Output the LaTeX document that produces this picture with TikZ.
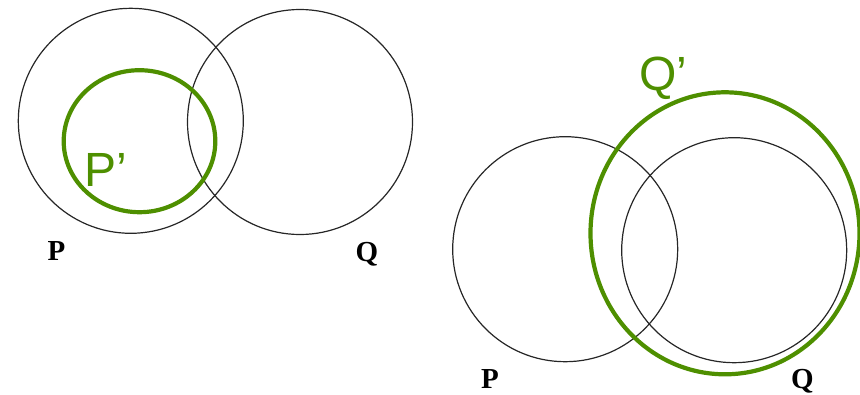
\documentclass[tikz,border=0pt]{standalone}
\usepackage{fontspec}
\setmainfont{Liberation Serif}
\newfontfamily\labsans{Liberation Sans}
\usetikzlibrary{shapes.geometric}
\definecolor{pgreen}{RGB}{78,143,0}
\begin{document}
\begin{tikzpicture}[x=1pt,y=-1pt,
  setring/.style={draw=black!85,line width=1.2pt},
  primering/.style={draw=pgreen,line width=4.2pt},
  setlabel/.style={inner sep=0pt,anchor=base west,font=\fontsize{29}{29}\selectfont\bfseries},
  primelabel/.style={inner sep=0pt,anchor=base west,text=pgreen,font=\labsans\fontsize{48}{48}\selectfont}]
\useasboundingbox (0,0) rectangle (860,394);
% left diagram
\draw[setring] (130.8,120.8) circle[radius=112.5];
\draw[setring] (300,122) circle[radius=112.5];
\draw[primering] (139.5,141.2) ellipse[x radius=75.8,y radius=71];
\node[primelabel] (Pp) at (84.6,186.7) {P’};
\node[setlabel] (P1) at (47.5,260) {P};
\node[setlabel] (Q1) at (355.5,261) {Q};
% right diagram
\draw[setring] (565.2,249.2) circle[radius=112.5];
\draw[setring] (734.2,250.2) circle[radius=112.5];
\draw[primering] (725,233.3) ellipse[x radius=134.5,y radius=141];
\node[primelabel] (Qp) at (639.4,90) {Q’};
\node[setlabel] (P2) at (481,388) {P};
\node[setlabel] (Q2) at (791,388) {Q};
\end{tikzpicture}
\end{document}
